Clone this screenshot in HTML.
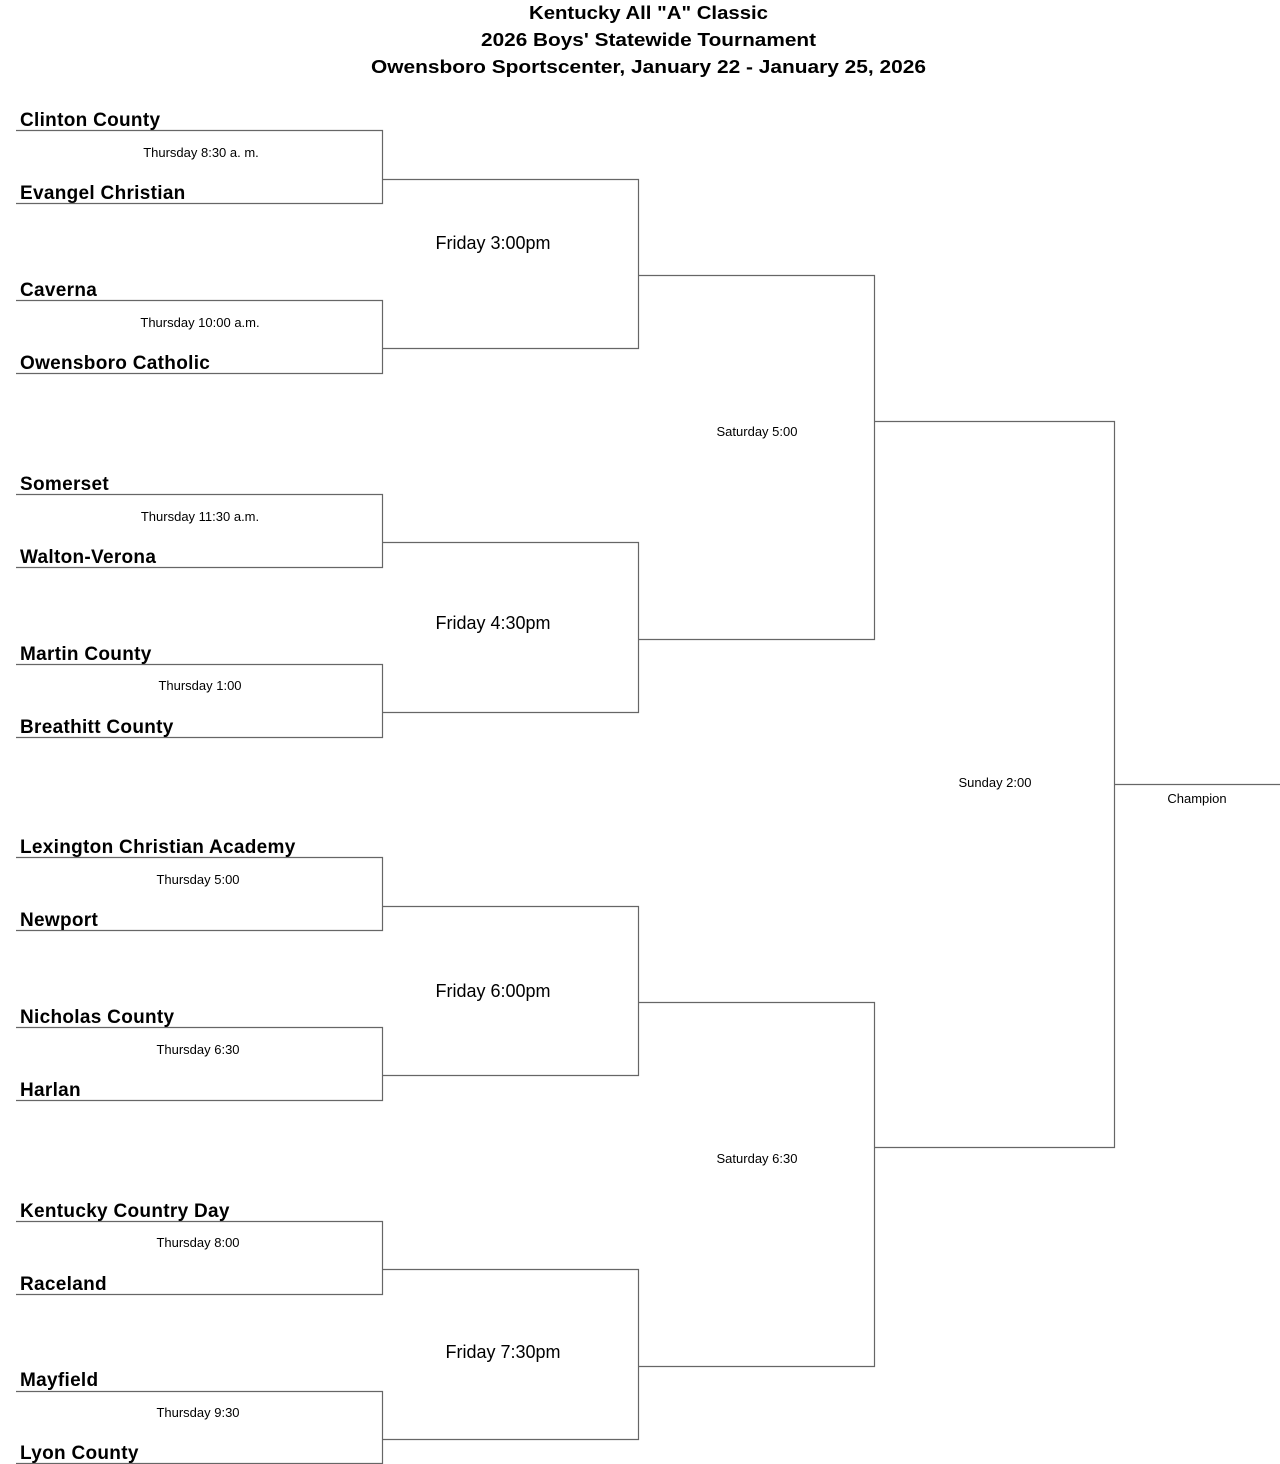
<!DOCTYPE html>
<html><head><meta charset="utf-8"><style>
html,body{margin:0;padding:0;background:#fff;}
svg{display:block;}
.t{font-family:"Liberation Sans",Arial,sans-serif;font-weight:bold;font-size:19px;fill:#000;letter-spacing:0.3px;}
.h{font-family:"Liberation Sans",Arial,sans-serif;font-weight:bold;font-size:18px;fill:#000;}
.s{font-family:"Liberation Sans",Arial,sans-serif;font-size:13px;fill:#000;text-anchor:middle;}
.f{font-family:"Liberation Sans",Arial,sans-serif;font-size:18px;fill:#000;text-anchor:middle;}
</style></head><body>
<svg width="1280" height="1464" viewBox="0 0 1280 1464" xmlns="http://www.w3.org/2000/svg">
<text class="h" x="529" y="19" textLength="239" lengthAdjust="spacingAndGlyphs">Kentucky All "A" Classic</text>
<text class="h" x="481" y="46" textLength="335" lengthAdjust="spacingAndGlyphs">2026 Boys' Statewide Tournament</text>
<text class="h" x="371" y="73" textLength="555" lengthAdjust="spacingAndGlyphs">Owensboro Sportscenter, January 22 - January 25,  2026</text>
<g fill="none" stroke="#666" stroke-width="1.2">
<path d="M16 130.5H382.5V203.5H16"/>
<path d="M16 300.5H382.5V373.5H16"/>
<path d="M16 494.5H382.5V567.5H16"/>
<path d="M16 664.5H382.5V737.5H16"/>
<path d="M16 857.5H382.5V930.5H16"/>
<path d="M16 1027.5H382.5V1100.5H16"/>
<path d="M16 1221.5H382.5V1294.5H16"/>
<path d="M16 1391.5H382.5V1463.5H16"/>
<path d="M382.5 179.5H638.5V348.5H382.5"/>
<path d="M382.5 542.5H638.5V712.5H382.5"/>
<path d="M382.5 906.5H638.5V1075.5H382.5"/>
<path d="M382.5 1269.5H638.5V1439.5H382.5"/>
<path d="M638.5 275.5H874.5V639.5H638.5"/>
<path d="M638.5 1002.5H874.5V1366.5H638.5"/>
<path d="M874.5 421.5H1114.5V1147.5H874.5"/>
<path d="M1114.5 784.5H1280"/>
</g>
<text class="t" x="20" y="126">Clinton County</text>
<text class="t" x="20" y="199">Evangel Christian</text>
<text class="t" x="20" y="296">Caverna</text>
<text class="t" x="20" y="369">Owensboro Catholic</text>
<text class="t" x="20" y="490">Somerset</text>
<text class="t" x="20" y="563">Walton-Verona</text>
<text class="t" x="20" y="660">Martin County</text>
<text class="t" x="20" y="733">Breathitt County</text>
<text class="t" x="20" y="853">Lexington Christian Academy</text>
<text class="t" x="20" y="926">Newport</text>
<text class="t" x="20" y="1023">Nicholas County</text>
<text class="t" x="20" y="1096">Harlan</text>
<text class="t" x="20" y="1217">Kentucky Country Day</text>
<text class="t" x="20" y="1290">Raceland</text>
<text class="t" x="20" y="1386">Mayfield</text>
<text class="t" x="20" y="1459">Lyon County</text>
<text class="s" x="201" y="157">Thursday 8:30 a. m.</text>
<text class="s" x="200" y="327">Thursday 10:00 a.m.</text>
<text class="s" x="200" y="521">Thursday 11:30 a.m.</text>
<text class="s" x="200" y="690">Thursday 1:00</text>
<text class="s" x="198" y="884">Thursday 5:00</text>
<text class="s" x="198" y="1054">Thursday 6:30</text>
<text class="s" x="198" y="1247">Thursday 8:00</text>
<text class="s" x="198" y="1417">Thursday 9:30</text>
<text class="f" x="493" y="249">Friday 3:00pm</text>
<text class="f" x="493" y="629">Friday 4:30pm</text>
<text class="f" x="493" y="997">Friday 6:00pm</text>
<text class="f" x="503" y="1358">Friday 7:30pm</text>
<text class="s" x="757" y="436">Saturday 5:00</text>
<text class="s" x="757" y="1163">Saturday 6:30</text>
<text class="s" x="995" y="787">Sunday 2:00</text>
<text class="s" x="1197" y="803">Champion</text>
</svg>
</body></html>
